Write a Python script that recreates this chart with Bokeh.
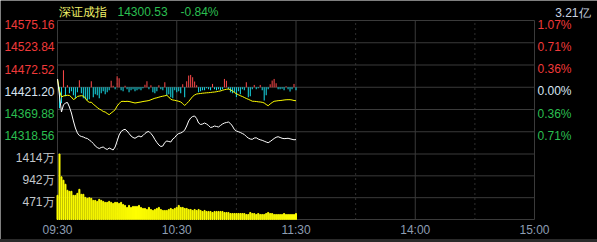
from bokeh.plotting import figure
from bokeh.models import Range1d, Label, ColumnDataSource, Spacer
from bokeh.layouts import column
from bokeh.embed import file_html
from bokeh.resources import INLINE

# ---------------- data ----------------
minutes = list(range(121))  # 09:30 .. 11:30, one point per minute

price = [
    14440.2, 14401.0, 14364.1, 14380.3, 14384.9, 14386.0, 14375.6, 14361.8, 14343.4, 14327.2,
    14315.7, 14309.9, 14307.6, 14306.5, 14304.1, 14303.0, 14299.5, 14296.1, 14291.5, 14285.7,
    14282.2, 14279.9, 14282.2, 14283.4, 14279.9, 14277.6, 14281.1, 14278.8, 14276.5, 14283.4,
    14297.2, 14311.1, 14319.1, 14322.6, 14324.2, 14320.3, 14314.5, 14308.8, 14305.3, 14303.5,
    14306.5, 14308.8, 14306.5, 14309.9, 14314.5, 14318.0, 14319.1, 14314.5, 14308.8, 14300.7,
    14293.8, 14288.0, 14284.5, 14285.7, 14293.8, 14297.2, 14296.1, 14294.9, 14301.8, 14305.3,
    14311.1, 14314.5, 14315.7, 14318.0, 14322.6, 14331.8, 14343.4, 14350.3, 14353.7, 14354.9,
    14349.1, 14338.7, 14335.3, 14336.4, 14338.7, 14336.4, 14333.0, 14328.4, 14329.5, 14331.8,
    14330.7, 14329.5, 14333.0, 14336.4, 14338.7, 14339.9, 14341.0, 14337.6, 14331.8, 14323.7,
    14320.3, 14318.7, 14316.8, 14314.5, 14312.2, 14307.6, 14304.1, 14301.8, 14301.1, 14304.1,
    14304.6, 14301.8, 14300.0, 14298.8, 14296.8, 14294.9, 14293.3, 14296.1, 14299.5, 14303.0,
    14305.8, 14307.1, 14305.3, 14303.5, 14302.6, 14303.0, 14303.5, 14302.3, 14301.1, 14300.0,
    14300.53,
]

avg_price = [
    14440.2, 14412.6, 14398.7, 14401.0, 14402.2, 14402.6, 14402.2, 14398.7, 14392.9, 14395.3,
    14399.9, 14401.0, 14401.7, 14401.0, 14396.4, 14389.5, 14386.5, 14386.5, 14382.6, 14378.0,
    14374.5, 14371.0, 14368.7, 14365.3, 14364.1, 14360.7, 14357.9, 14361.8, 14365.3, 14369.4,
    14378.0, 14383.3, 14388.3, 14388.8, 14388.3, 14388.8, 14388.3, 14387.2, 14386.0, 14384.9,
    14385.6, 14386.5, 14387.2, 14388.3, 14389.0, 14389.7, 14390.6, 14392.3, 14394.1, 14395.9,
    14396.9, 14398.3, 14399.6, 14400.6, 14401.5, 14402.6, 14398.7, 14393.4, 14391.8, 14391.1,
    14390.0, 14388.8, 14387.2, 14383.7, 14379.1, 14383.7, 14388.3, 14394.1, 14399.9, 14403.3,
    14405.6, 14406.3, 14406.8, 14407.5, 14407.9, 14408.4, 14408.6, 14409.1, 14409.8, 14410.2,
    14410.9, 14411.9, 14412.6, 14414.2, 14415.6, 14416.5, 14417.2, 14415.6, 14412.6, 14409.1,
    14406.3, 14404.0, 14401.7, 14399.9, 14397.6, 14395.3, 14393.4, 14391.3, 14389.0, 14388.8,
    14388.3, 14387.6, 14387.2, 14386.5, 14384.9, 14381.4, 14378.6, 14382.6, 14386.0, 14388.8,
    14389.5, 14390.2, 14390.6, 14391.1, 14391.8, 14392.3, 14392.5, 14392.5, 14391.8, 14390.6,
    14390.2,
]

# buy/sell strength bars around the previous-close line (red up, cyan down)
strength = [
    0, -21, -16, 17, -9, 2, -6, -4, -8, -11,
    -5, 7, -6, -11, -12, -13, -12, 6, -10, -7,
    -8, -11, -6, -4, -7, -5, -3, 6.5, 1.5, -2,
    11, 9, -3, -4, 1.5, -2, -5, -3, -2, -4,
    -3, -2, -3, -1, 2.5, 6, -2, 2, -5, -6,
    -4, 2, -2, -3, 5, -8, -7, -10, -11, -3,
    -5, -4, -6, 3, -10, 6, 11.7, 12.3, 10, 5.7,
    2, -5, -4, -3, -3, -1, -2, -3, 3.3, -2,
    -3, -2, -3, -2, 8.3, 6.5, -2, -5, -6, -5,
    -10, -4, -7, -2, -3, 5, -10, -9, -2, 2.3,
    -2, -1, 2.3, -3, -13.3, -8, -2, 3, 6.7, 8.3,
    4, -2, -2, -1.5, -3, 1, -2, -4.3, -2, 3.3,
    -3,
]

volume = [  # 万
    522, 1414, 921, 848, 761, 631, 609, 609, 522, 522,
    565, 652, 544, 544, 478, 457, 471, 457, 413, 413,
    391, 435, 413, 391, 370, 370, 391, 370, 348, 370,
    370, 348, 370, 326, 304, 261, 304, 261, 283, 283,
    283, 304, 261, 239, 239, 217, 261, 217, 196, 217,
    239, 261, 217, 196, 196, 196, 217, 239, 217, 239,
    261, 304, 261, 261, 239, 239, 217, 217, 196, 217,
    196, 217, 196, 174, 196, 174, 174, 174, 152, 174,
    174, 174, 174, 174, 152, 152, 152, 130, 130, 130,
    130, 130, 130, 130, 130, 109, 109, 152, 130, 130,
    109, 130, 109, 109, 109, 130, 152, 130, 130, 109,
    109, 109, 109, 109, 130, 109, 109, 109, 109, 109,
    130,
]

prev_close = 14421.20
price_ticks = [14575.16, 14523.84, 14472.52, 14421.20, 14369.88, 14318.56]
price_tick_labels = ["14575.16", "14523.84", "14472.52", "14421.20", "14369.88", "14318.56"]
pct_labels = ["1.07%", "0.71%", "0.36%", "0.00%", "0.36%", "0.71%"]
vol_ticks = [1414, 942.67, 471.33]
vol_labels = ["1414万", "942万", "471万"]
time_ticks = [0, 60, 120, 180, 240]
time_labels = ["09:30", "10:30", "11:30", "14:00", "15:00"]
half_hour_ticks = [30, 90, 150, 210]
session_end = 240
index_name = "深证成指"
last_price = "14300.53"
last_change = "-0.84%"
turnover = "3.21亿"

# ---------------- layout / styling ----------------
FONT = "Liberation Sans"
RED = "#f03a3a"
GREEN = "#2bbf50"
ZERO = "#d8e4f0"
GRID = "#3a3a3a"

W, H = 597, 239
LEFT, RIGHT, TOP, BOTTOM = 57, 63, 20, 20           # chart box inside the canvas (px)
box_w = W - LEFT - RIGHT
box_h = H - TOP - BOTTOM
price_panel_h = 133.5
vol_panel_h = box_h - price_panel_h

step = price_ticks[0] - price_ticks[1]
price_top = price_ticks[0]
price_low = prev_close - 3 * step
upx = (price_top - price_low) / price_panel_h          # price units per pixel
vpx = vol_ticks[0] / vol_panel_h                       # volume units per pixel
mpx = session_end / box_w                              # minutes per pixel
zero_px = (price_top - prev_close) / upx               # px from box top to zero line

x_range = Range1d(-LEFT * mpx, session_end + RIGHT * mpx)
y_range = Range1d(price_top - (H - TOP) * upx, price_top + TOP * upx)
box_bottom = price_top - box_h * upx

p = figure(width=W, height=H, output_backend="svg", toolbar_location=None,
           x_range=x_range, y_range=y_range, x_axis_location=None, y_axis_location=None,
           min_border=0, background_fill_color="black", border_fill_color="black")
p.outline_line_color = None
p.grid.visible = False

p.extra_y_ranges = {
    "vol": Range1d(-BOTTOM * vpx, (H - BOTTOM) * vpx),
    "ind": Range1d(-(H - TOP - zero_px), TOP + zero_px),
}

# grid lines of the chart box
solid_x = [time_ticks[0]] + [60, 120, 180] + [time_ticks[-1]]
p.segment(x0=solid_x, x1=solid_x, y0=[box_bottom] * len(solid_x), y1=[price_top] * len(solid_x),
          line_color=GRID, line_width=1)
p.segment(x0=half_hour_ticks, x1=half_hour_ticks, y0=[box_bottom] * 4, y1=[price_top] * 4,
          line_color="#5c5c5c", line_width=1, line_dash="1 4")
h_price = price_ticks + [price_low, box_bottom]
p.segment(x0=[0] * len(h_price), x1=[session_end] * len(h_price), y0=h_price, y1=h_price,
          line_color=GRID, line_width=1)
p.segment(x0=[0, 0], x1=[session_end] * 2, y0=vol_ticks[1:], y1=vol_ticks[1:],
          line_color=GRID, line_width=1, y_range_name="vol")

# strength bars
up = [(m, s) for m, s in zip(minutes, strength) if s > 0]
dn = [(m, s) for m, s in zip(minutes, strength) if s < 0]
src_up = ColumnDataSource(dict(x=[a for a, _ in up], y=[b for _, b in up], z=[0] * len(up)))
src_dn = ColumnDataSource(dict(x=[a for a, _ in dn], y=[b for _, b in dn], z=[0] * len(dn)))
p.segment(x0="x", y0="z", x1="x", y1="y", source=src_up, line_color="#ff4a4a", line_width=1, y_range_name="ind")
p.segment(x0="x", y0="z", x1="x", y1="y", source=src_dn, line_color="#19e0ec", line_width=1, y_range_name="ind")

# volume bars
p.vbar(x=minutes, top=volume, bottom=0, width=0.5, color="#ffff00", y_range_name="vol")

# price and average lines
p.line(minutes, avg_price, line_color="#ffff00", line_width=1)
p.line(minutes, price, line_color="#ffffff", line_width=1)


def add_label(x, y, text, color, align, x_off, y_off, rng="default"):
    p.add_layout(Label(x=x, y=y, text=text, text_color=color, text_align=align,
                       text_baseline="middle", x_offset=x_off, y_offset=y_off,
                       text_font=FONT, text_font_size="12px", y_range_name=rng))


price_colors = [RED, RED, RED, ZERO, GREEN, GREEN]
for t, lab, pc, col in zip(price_ticks, price_tick_labels, pct_labels, price_colors):
    add_label(0, t, lab, col, "right", -3, -4)
    add_label(session_end, t, pc, col, "left", 3, -4)

for t, lab in zip(vol_ticks, vol_labels):
    add_label(0, t, lab, "#c4c8cc", "right", -3, -4, "vol")

for t, lab in zip(time_ticks, time_labels):
    add_label(t, 0, lab, "#8d9db2", "center", 0, -10, "vol")

add_label(0, price_top, index_name, "#f2f26a", "left", 1, 9)
add_label(0, price_top, last_price, GREEN, "left", 60, 9)
add_label(0, price_top, last_change, GREEN, "left", 123, 9)
add_label(session_end, price_top, turnover, "#c9d3e0", "right", 56, 8)

strip = Spacer(width=W, height=3, styles={"background-color": "#2a2a2a"})
layout = column(p, strip, spacing=0)

open("out.html", "w").write(file_html(layout, INLINE))
